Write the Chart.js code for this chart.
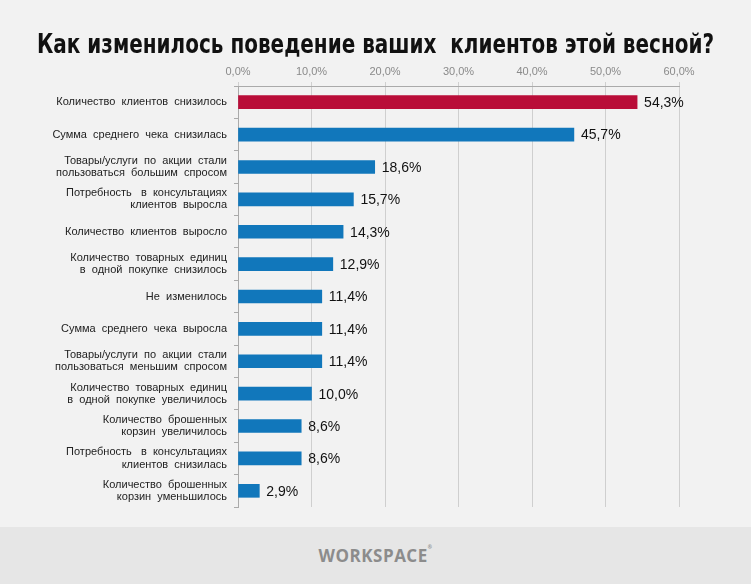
<!DOCTYPE html>
<html>
<head>
<meta charset="utf-8">
<script src="https://cdn.jsdelivr.net/npm/chart.js@4.4.1/dist/chart.umd.min.js"></script>
<style>
  html, body { margin: 0; padding: 0; background: #f2f2f2; }
  #wrap { width: 751px; height: 527px; position: relative; }
  #footer { width: 751px; height: 57px; background: #e6e6e6; position: relative; }
  #logo { position: absolute; left: 0; width: 751px; top: 17px; text-align: center;
          font-family: "Open Sans", sans-serif; font-weight: bold; font-size: 17px;
          color: #8c8c8c; letter-spacing: 0.5px; }
  #logo sup { font-size: 5px; vertical-align: top; }
</style>
</head>
<body>
<div id="wrap"><canvas id="behaviour"></canvas></div>
<div id="footer"><div id="logo">WORKSPACE<sup>®</sup></div></div>
<script>
var chartTitle = 'Как изменилось поведение ваших  клиентов этой весной?';
// answers (labels split in lines as on the picture)
var answers = [
    ['Количество  клиентов  снизилось'],
    ['Сумма  среднего  чека  снизилась'],
    ['Товары/услуги  по  акции  стали', 'пользоваться  большим  спросом'],
    ['Потребность   в  консультациях', 'клиентов  выросла'],
    ['Количество  клиентов  выросло'],
    ['Количество  товарных  единиц', 'в  одной  покупке  снизилось'],
    ['Не  изменилось'],
    ['Сумма  среднего  чека  выросла'],
    ['Товары/услуги  по  акции  стали', 'пользоваться  меньшим  спросом'],
    ['Количество  товарных  единиц', 'в  одной  покупке  увеличилось'],
    ['Количество  брошенных', 'корзин  увеличилось'],
    ['Потребность   в  консультациях', 'клиентов  снизилась'],
    ['Количество  брошенных', 'корзин  уменьшилось']
];
var shares = [54.3, 45.7, 18.6, 15.7, 14.3, 12.9, 11.4, 11.4, 11.4, 10.0, 8.6, 8.6, 2.9];
var axisTicks = [0, 10, 20, 30, 40, 50, 60];

var RED = '#b90d38';
var BLUE = '#1177bb';

function fmt(v) {
    return v.toFixed(1).replace('.', ',') + '%';
}

// title centred on the whole canvas (narrowed like the original) + value next to each bar
const extras = {
    id: 'extras',
    afterDatasetsDraw(chart) {
        const ctx = chart.ctx;
        const meta = chart.getDatasetMeta(0);
        ctx.save();
        ctx.font = 'bold 26px "DejaVu Sans", sans-serif';
        ctx.fillStyle = '#111';
        ctx.textAlign = 'center';
        ctx.textBaseline = 'middle';
        ctx.fillText(chartTitle, chart.width / 2, 46, 677);

        ctx.font = '14px "Liberation Sans", Arial, sans-serif';
        ctx.textAlign = 'left';
        meta.data.forEach((bar, i) => {
            ctx.fillText(fmt(shares[i]), bar.x + 7, bar.y + 1);
        });
        ctx.restore();
    }
};

const ctx = document.getElementById('behaviour').getContext('2d');
const config = {
    type: 'bar',
    data: {
        labels: answers,
        datasets: [{
            data: shares,
            backgroundColor: shares.map((v, i) => i == 0 ? RED : BLUE),
            barThickness: 13
        }]
    },
    options: {
        indexAxis: 'y',
        responsive: true,
        maintainAspectRatio: false,
        animation: false,
        layout: { padding: { left: 0, right: 72, top: 64, bottom: 20 } },
        plugins: {
            legend: { display: false },
            tooltip: { enabled: false }
        },
        scales: {
            x: {
                position: 'top',
                min: 0,
                max: 60,
                afterBuildTicks: (scale) => { scale.ticks = axisTicks.map(v => ({ value: v })); },
                afterFit: (scale) => { scale.height = 22; },
                ticks: {
                    callback: (v) => fmt(v),
                    color: '#8a8a8a',
                    padding: 3,
                    font: { family: '"Liberation Sans", Arial, sans-serif', size: 11 }
                },
                grid: { color: '#cfcfcf', tickLength: 4 },
                border: { color: '#aaa' }
            },
            y: {
                afterFit: (scale) => { scale.width = 238; },
                ticks: {
                    color: '#222',
                    padding: 7,
                    font: { family: '"Liberation Sans", Arial, sans-serif', size: 11, lineHeight: 1.1 }
                },
                grid: { drawOnChartArea: false, tickLength: 4, color: '#aaa', offset: true },
                border: { color: '#aaa' }
            }
        }
    },
    plugins: [extras]
};
new Chart(ctx, config);
</script>
</body>
</html>
